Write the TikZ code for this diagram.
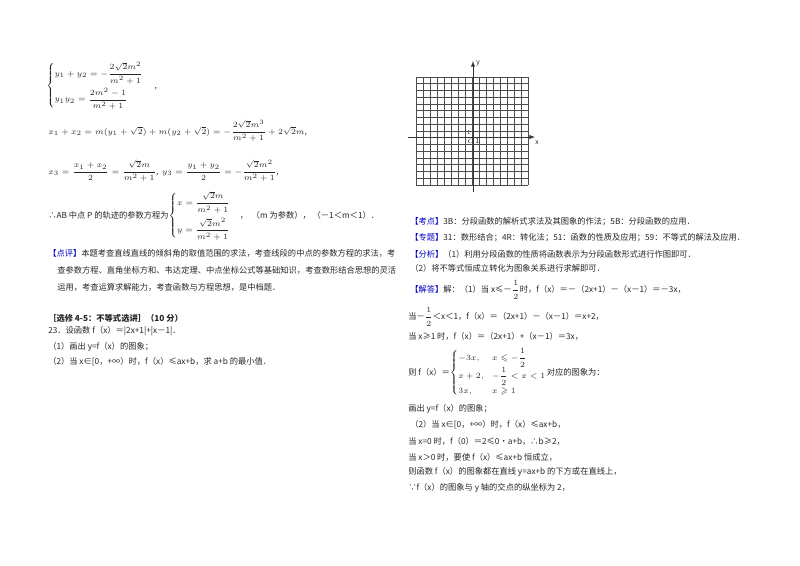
\documentclass[tikz,border=0pt]{standalone}
\usepackage{amsmath,amssymb}
\usepackage{fontspec}
\setmainfont{Noto Sans CJK SC}
\begin{document}
\begin{tikzpicture}[x=0.75pt,y=-0.75pt,
 t/.style={anchor=west,inner sep=0pt,font=\fontsize{6.2}{7.5}\selectfont,text=black!85},
 gl/.style={draw=black!70,line width=0.5pt}]
\useasboundingbox (0,0) rectangle (800,565);
% left column
\node[t] (a1) at (46,86) {$\begin{cases}y_1+y_2=-\dfrac{2\sqrt2 m^2}{m^2+1}\\[6pt] y_1y_2=\dfrac{2m^2-1}{m^2+1}\end{cases}$\ ,};
\node[t] (a2) at (48,131) {$x_1+x_2=m(y_1+\sqrt2)+m(y_2+\sqrt2)=-\dfrac{2\sqrt2 m^3}{m^2+1}+2\sqrt2 m$,};
\node[t] (a3) at (48,171) {$x_3=\dfrac{x_1+x_2}{2}=\dfrac{\sqrt2 m}{m^2+1}$,\ \ $y_3=\dfrac{y_1+y_2}{2}=-\dfrac{\sqrt2 m^2}{m^2+1}$,};
\node[t] (a4) at (48,216) {∴AB 中点 P 的轨迹的参数方程为$\begin{cases}x=\dfrac{\sqrt2 m}{m^2+1}\\[7pt] y=\dfrac{\sqrt2 m^2}{m^2+1}\end{cases}$，\ \ （m 为参数），\ （－1＜m＜1）．};
\node[t] (a5) at (48,253) {{\color{blue!75!black}【点评】}本题考查直线直线的倾斜角的取值范围的求法，考查线段的中点的参数方程的求法，考};
\node[t] (a6) at (57,270) {查参数方程、直角坐标方和、韦达定理、中点坐标公式等基础知识，考查数形结合思想的灵活};
\node[t] (a7) at (57,287) {运用，考查运算求解能力，考查函数与方程思想，是中档题．};
\node[t] (a8) at (48,318) {\textbf{［选修 4-5：不等式选讲］（10 分）}};
\node[t] (a9) at (48,331) {23．设函数 f（x）＝|2x+1|+|x－1|．};
\node[t] (a10) at (48,347) {（1）画出 y=f（x）的图象；};
\node[t] (a11) at (48,362) {（2）当 x∈[0，+∞）时，f（x）≤ax+b，求 a+b 的最小值．};
% grid
\foreach \i in {0,...,16} {\draw[gl] (416+7*\i,77) -- (416+7*\i,185);}
\foreach \j in {0,...,16} {\draw[gl] (416,77+6.75*\j) -- (528,77+6.75*\j);}
\coordinate (xs) at (408,137); \coordinate (xe) at (535,137);
\coordinate (ys) at (473,192); \coordinate (ye) at (473,61);
\draw[-latex,black!80,line width=0.5pt] (xs) -- (xe);
\draw[-latex,black!80,line width=0.5pt] (ys) -- (ye);
\node[t,font=\fontsize{5}{6}\selectfont\itshape] (ly) at (476,63) {y};
\node[t,font=\fontsize{5}{6}\selectfont\itshape] (lx) at (535,143) {x};
\node[t,font=\fontsize{5}{6}\selectfont] (lo) at (467,141) {$O$\,1};
\node[t,font=\fontsize{4}{5}\selectfont] (l1) at (467,133) {1};
% right column
\node[t] (b1) at (410,222) {{\color{blue!75!black}【考点】}3B：分段函数的解析式求法及其图象的作法；5B：分段函数的应用．};
\node[t] (b2) at (410,238) {{\color{blue!75!black}【专题】}31：数形结合；4R：转化法；51：函数的性质及应用；59：不等式的解法及应用．};
\node[t] (b3) at (410,254) {{\color{blue!75!black}【分析】}（1）利用分段函数的性质将函数表示为分段函数形式进行作图即可．};
\node[t] (b4) at (410,268) {（2）将不等式恒成立转化为图象关系进行求解即可．};
\node[t] (b5) at (410,290) {{\color{blue!75!black}【解答】}解：（1）当 x≤－$\dfrac12$时，f（x）＝－（2x+1）－（x－1）＝－3x，};
\node[t] (b6) at (408,317) {当－$\dfrac12$＜x＜1，f（x）＝（2x+1）－（x－1）＝x+2，};
\node[t] (b7) at (408,336) {当 x≥1 时，f（x）＝（2x+1）+（x－1）＝3x，};
\node[t] (b8) at (408,373) {则 f（x）＝$\begin{cases}-3x, & x\leqslant-\dfrac12\\[2pt] x+2, & -\dfrac12<x<1\\[2pt] 3x, & x\geqslant1\end{cases}$对应的图象为：};
\node[t] (b9) at (408,409) {画出 y=f（x）的图象；};
\node[t] (b10) at (410,425) {（2）当 x∈[0，+∞）时，f（x）≤ax+b，};
\node[t] (b11) at (408,441) {当 x=0 时，f（0）＝2≤0•a+b，∴b≥2，};
\node[t] (b12) at (408,457) {当 x＞0 时，要使 f（x）≤ax+b 恒成立，};
\node[t] (b13) at (408,472) {则函数 f（x）的图象都在直线 y=ax+b 的下方或在直线上，};
\node[t] (b14) at (408,488) {∵f（x）的图象与 y 轴的交点的纵坐标为 2，};
\end{tikzpicture}
\end{document}
